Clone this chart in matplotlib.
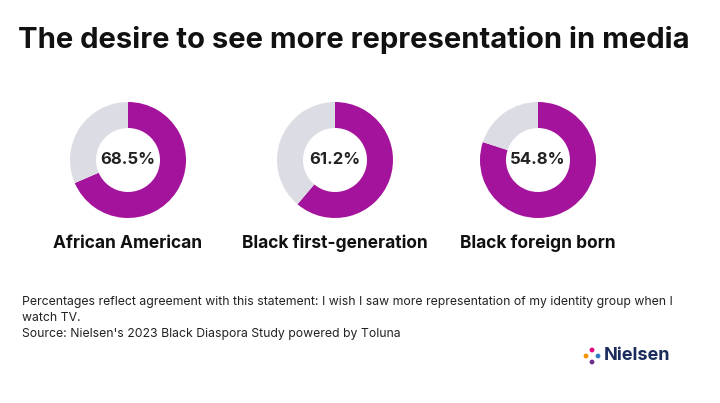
import matplotlib
matplotlib.use("Agg")
import matplotlib.pyplot as plt
from matplotlib.patches import Wedge, Circle

groups = ["African American", "Black first-generation", "Black foreign born"]
labels = ["68.5%", "61.2%", "54.8%"]
arc_share = [68.5, 61.2, 80.0]  # share of ring drawn magenta, as pictured

fig = plt.figure(figsize=(7.2, 4.03), dpi=100)
ax = fig.add_axes([0, 0, 1, 1])
ax.set_xlim(0, 720); ax.set_ylim(403, 0); ax.set_aspect("equal"); ax.axis("off")
mag = "#A3139B"; grey = "#DCDDE4"
fam = ["Inter", "DejaVu Sans"]

ax.text(18, 40, "The desire to see more representation in media", fontsize=21,
        fontweight="bold", family=fam, va="center", ha="left", color="#111")
centers = [128, 335, 538]
cy, R, w = 160, 58, 26
for cx, g, lab, s in zip(centers, groups, labels, arc_share):
    ax.add_patch(Wedge((cx, cy), R, -90, -90 + 360 * s / 100, width=w, color=mag, lw=0))
    ax.add_patch(Wedge((cx, cy), R, -90 + 360 * s / 100, 270, width=w, color=grey, lw=0))
    ax.text(cx, cy, lab, fontsize=12, fontweight="bold", family=fam, ha="center", va="center", color="#222")
    ax.text(cx, 243, g, fontsize=12.5, fontweight="bold", family=fam, ha="center", va="center", color="#111")

foot = ["Percentages reflect agreement with this statement: I wish I saw more representation of my identity group when I",
        "watch TV.",
        "Source: Nielsen's 2023 Black Diaspora Study powered by Toluna"]
for i, t in enumerate(foot):
    ax.text(22, 302 + i * 16, t, fontsize=8.8, family=fam, va="center", ha="left", color="#222")

cols = ["#E6007E", "#F39200", "#2D7CC1", "#6C2B8C"]
pts = [(592, 350), (586, 356), (598, 356), (592, 362)]
for (x, y), c in zip(pts, cols):
    ax.add_patch(Circle((x, y), 2.4, color=c, lw=0))
ax.text(604, 356, "Nielsen", fontsize=13, fontweight="bold", family=fam, va="center", ha="left", color="#1A2C5B")
fig.savefig("out.png", dpi=100)
